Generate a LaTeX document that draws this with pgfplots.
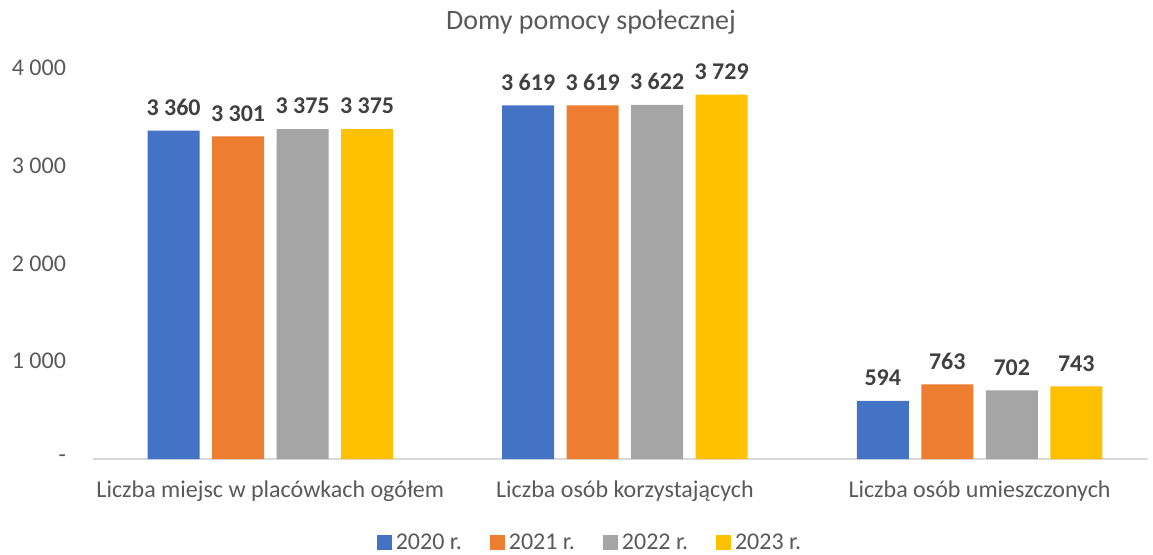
\documentclass[border=0pt]{standalone}
\usepackage{pgfplots}
\pgfplotsset{compat=1.18}
\usepackage{fontspec}
\setmainfont{Carlito}
\definecolor{c20}{HTML}{4472C4}
\definecolor{c21}{HTML}{ED7D31}
\definecolor{c22}{HTML}{A5A5A5}
\definecolor{c23}{HTML}{FFC000}
\definecolor{txt}{HTML}{595959}
\definecolor{lbl}{HTML}{404040}
\begin{document}
\begin{tikzpicture}
\path[use as bounding box] (-46.5pt,-47.5pt) rectangle (530pt,229.5pt);
\begin{axis}[
    scale only axis,
    width=527.5pt,
    height=195.5pt,
    ybar=6.25pt,
    bar width=26pt,
    xmin=-0.5, xmax=2.475,
    ymin=0, ymax=4000,
    xtick={0,1,2},
    xticklabels={Liczba miejsc w placówkach ogółem,Liczba osób korzystających,Liczba osób umieszczonych},
    ytick={0,1000,2000,3000,4000},
    yticklabels={-\hspace{6pt},1 000,2 000,3 000,4 000},
    axis y line*=left,
    y axis line style={draw=none},
    axis x line*=bottom,
    x axis line style={draw=black!15, line width=0.6pt},
    tick style={draw=none},
    ticklabel style={font=\fontsize{12}{14}\selectfont, text=txt},
    xticklabel style={yshift=-3pt},
    yticklabel style={xshift=-10pt},
    nodes near coords,
    every node near coord/.append style={font=\fontsize{12}{14}\selectfont\bfseries, text=lbl, yshift=4pt},
    /pgf/number format/.cd, 1000 sep={\ }, assume math mode=true,
    /pgfplots/.cd,
    title={Domy pomocy społecznej},
    title style={font=\fontsize{14}{16}\selectfont, text=txt, at={(0.472,1)}, anchor=center, yshift=17pt},
    legend style={draw=none, font=\fontsize{12}{14}\selectfont, text=txt, at={(0.472,-0.215)}, anchor=center, legend columns=4, /tikz/every even column/.append style={column sep=12pt}},
    legend image code/.code={\fill[#1] (0pt,-3.5pt) rectangle (7.5pt,4pt);},
]
\addplot[fill=c20, draw=none] coordinates {(0,3360) (1,3619) (2,594)};
\addlegendentry{2020 r.}
\addplot[fill=c21, draw=none] coordinates {(0,3301) (1,3619) (2,763)};
\addlegendentry{2021 r.}
\addplot[fill=c22, draw=none] coordinates {(0,3375) (1,3622) (2,702)};
\addlegendentry{2022 r.}
\addplot[fill=c23, draw=none] coordinates {(0,3375) (1,3729) (2,743)};
\addlegendentry{2023 r.}
\end{axis}
\end{tikzpicture}
\end{document}
